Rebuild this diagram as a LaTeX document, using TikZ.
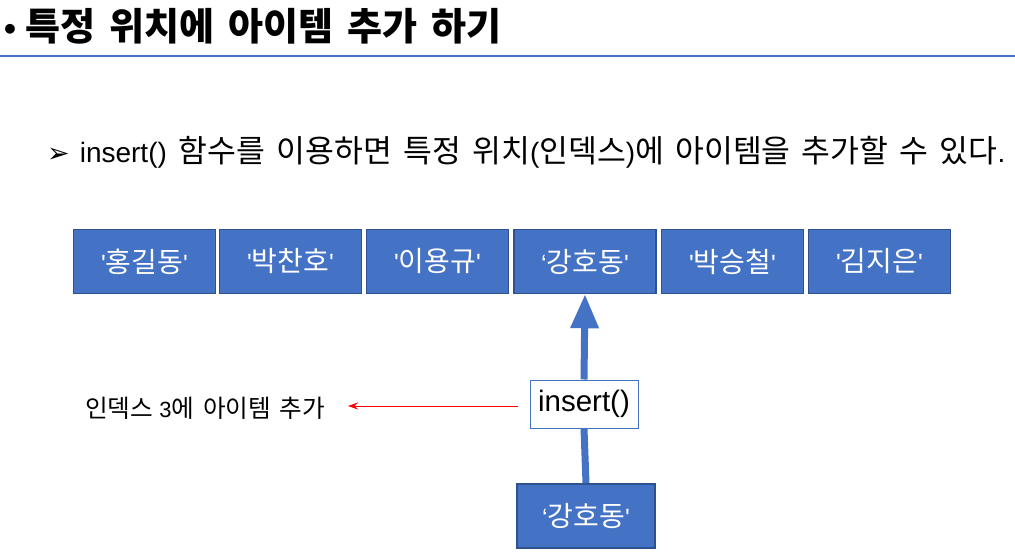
\documentclass[tikz,border=0pt]{standalone}
\usepackage{fontspec}
\setmainfont{Liberation Sans}[Ligatures=TeXOff]
\newfontfamily\kr{Noto Sans CJK KR}[Ligatures=TeXOff, Scale=1.12, WordSpace=1.6]
\newfontfamily\symfont{DejaVu Sans}
\usetikzlibrary{arrows.meta}
\definecolor{boxblue}{HTML}{4472C4}
\definecolor{boxedge}{HTML}{2F528F}
\tikzset{
  item/.style={draw=boxedge, line width=1.6pt, fill=boxblue, text=white, minimum width=142pt, minimum height=64pt, inner sep=0pt, font=\fontsize{25}{29}\selectfont},
  funcbox/.style={draw=boxblue, line width=1pt, fill=white, minimum width=108pt, minimum height=48pt, inner sep=0pt, font=\fontsize{29.5}{32}\selectfont},
}
\begin{document}
\begin{tikzpicture}[x=1pt,y=-1pt]
\useasboundingbox (0,0) rectangle (1015,559);
\node[anchor=west, font=\fontsize{34}{42}\selectfont\bfseries, inner sep=0pt] (title) at (4,26) {•\hspace{9pt}{\kr 특정 위치에 아이템 추가 하기}};
\draw[boxblue, line width=1.2pt] (0,56) -- (1015,56);
\node[anchor=west, font=\fontsize{28}{32}\selectfont, inner sep=0pt] (sub) at (47,152) {{\symfont\fontsize{27}{28}\selectfont ➢}\hspace{10pt}insert()\hspace{12pt}{\kr 함수를 이용하면 특정 위치}({\kr 인덱스}){\kr 에 아이템을 추가할 수 있다}.};
\node[item] (a1) at (144.5,261.5) {'{\kr 홍길동}'};
\node[item] (a2) at (290.5,261.5) {'{\kr 박찬호}'};
\node[item] (a3) at (437.5,261.5) {'{\kr 이용규}'};
\node[item] (a4) at (585,261.5) {‘{\kr 강호동}'};
\node[item] (a5) at (732.5,261.5) {'{\kr 박승철}'};
\node[item] (a6) at (879.5,261.5) {'{\kr 김지은}'};
\node[item, minimum width=138pt] (b) at (586,516) {‘{\kr 강호동}'};
\node[funcbox] (f) at (584,404) {insert()};
\draw[boxblue, line width=7pt] (b.north) -- (f.south);
\draw[boxblue, line width=7pt, -{Triangle[length=34pt,width=27pt]}] (f.north) -- (a4.south);
\node[anchor=west, font=\fontsize{22}{26}\selectfont, inner sep=0pt] (lbl) at (85,408) {{\kr 인덱스} 3{\kr 에 아이템 추가}};
\draw[red, line width=1pt, -{Stealth[length=10pt,width=7pt]}] (f.west) ++(-12,2) coordinate (rs) -- (348,406) coordinate (re);
\end{tikzpicture}
\end{document}
